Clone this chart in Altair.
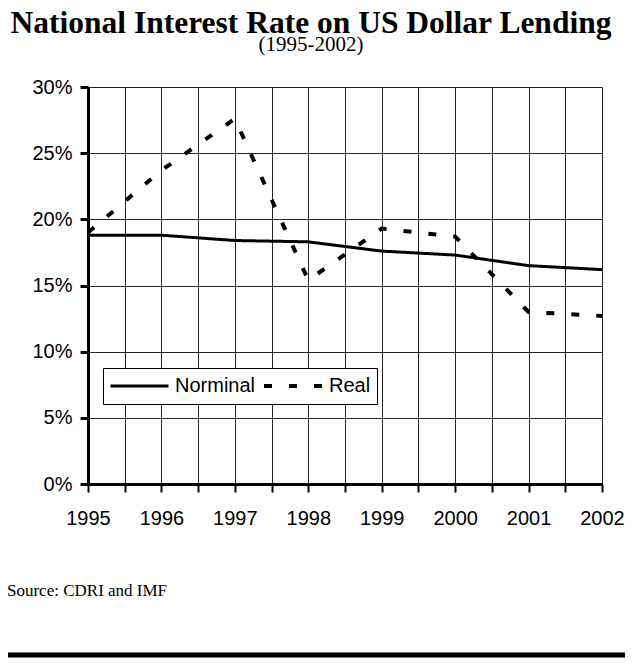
import altair as alt
import pandas as pd

years = [1995, 1996, 1997, 1998, 1999, 2000, 2001, 2002]
nominal = [18.8, 18.8, 18.4, 18.3, 17.6, 17.3, 16.5, 16.2]
real = [19.0, 23.7, 27.6, 15.4, 19.3, 18.7, 13.0, 12.7]
series_names = ["Norminal", "Real"]

x_ticks = [1995 + 0.5 * i for i in range(15)]
y_ticks = [0, 5, 10, 15, 20, 25, 30]

rows = []
for y, v in zip(years, nominal):
    rows.append({"year": y, "rate": v, "series": series_names[0]})
for y, v in zip(years, real):
    rows.append({"year": y, "rate": v, "series": series_names[1]})
df = pd.DataFrame(rows)

W, H = 514, 397

lines = alt.Chart(df).mark_line(color="black", strokeCap="butt").encode(
    x=alt.X("year:Q",
            scale=alt.Scale(domain=[1995, 2002], nice=False, zero=False),
            axis=alt.Axis(values=x_ticks, title=None,
                          labelExpr="datum.value % 1 == 0 ? format(datum.value, 'd') : ''",
                          labelFlush=False, labelOverlap=False,
                          labelFont="Liberation Sans", labelFontSize=20, labelColor="black",
                          labelPadding=16, tickSize=8, tickWidth=2, tickColor="black",
                          domainColor="black", domainWidth=3,
                          grid=True, gridColor="black", gridWidth=1, gridOpacity=0.85)),
    y=alt.Y("rate:Q",
            scale=alt.Scale(domain=[0, 30], nice=False),
            axis=alt.Axis(values=y_ticks, title=None,
                          labelExpr="datum.value + '%'",
                          labelFont="Liberation Sans", labelFontSize=20, labelColor="black",
                          labelPadding=8, tickSize=8, tickWidth=3, tickColor="black",
                          domainColor="black", domainWidth=3,
                          grid=True, gridColor="black", gridWidth=1, gridOpacity=0.85)),
    strokeDash=alt.StrokeDash("series:N",
                              scale=alt.Scale(domain=series_names, range=[[1, 0], [8, 17]]),
                              legend=alt.Legend(orient="none", legendX=15, legendY=281,
                                                direction="horizontal", title=None,
                                                symbolType="stroke", symbolSize=3364,
                                                symbolStrokeWidth=3.5, symbolStrokeColor="black",
                                                labelFont="Liberation Sans", labelFontSize=20,
                                                labelColor="black", labelOffset=5,
                                                columnPadding=6, padding=6, clipHeight=24,
                                                strokeColor="black", fillColor="white",
                                                cornerRadius=0)),
    strokeWidth=alt.StrokeWidth("series:N",
                                scale=alt.Scale(domain=series_names, range=[3, 4]),
                                legend=None),
)

source = alt.Chart(pd.DataFrame({"t": ["Source: CDRI and IMF"]})).mark_text(
    align="left", baseline="alphabetic", font="Liberation Serif", fontSize=17, color="black"
).encode(text="t:N", x=alt.value(-81), y=alt.value(509))

bar = alt.Chart(pd.DataFrame({"k": [1]})).mark_rule(color="black", strokeWidth=5).encode(
    x=alt.value(-80), x2=alt.value(537), y=alt.value(568)
)

chart = alt.layer(lines, source, bar).properties(
    width=W, height=H,
    autosize=alt.AutoSizeParams(type="none"),
    padding={"left": 80, "top": 79, "right": 23, "bottom": 176},
    title=alt.TitleParams(
        text="National Interest Rate on US Dollar Lending",
        subtitle="(1995-2002)",
        anchor="middle", dx=-34, offset=22,
        font="Liberation Serif", fontSize=31.5, fontWeight="bold", color="black",
        subtitleFont="Liberation Serif", subtitleFontSize=21, subtitleColor="black",
        subtitlePadding=-5,
    ),
).configure_view(stroke=None)

chart.save("out.html", embed_options={"renderer": "svg", "actions": False})
